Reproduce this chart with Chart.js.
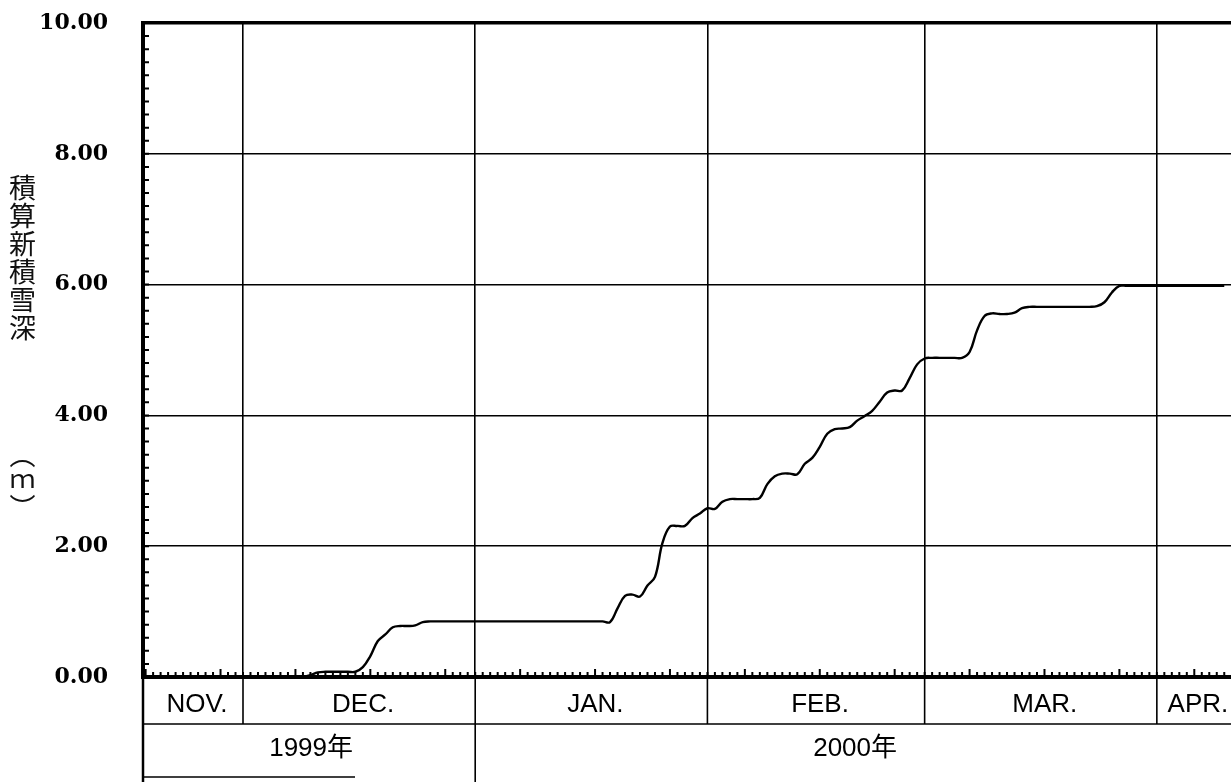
<!DOCTYPE html>
<html lang="ja">
<head>
<meta charset="utf-8">
<title>積算新積雪深</title>
<script src="https://cdn.jsdelivr.net/npm/chart.js@4.4.0/dist/chart.umd.min.js"></script>
<style>
  html, body { margin: 0; padding: 0; background: #fff; }
  .wrap { position: relative; width: 1231px; height: 782px; overflow: hidden; }
  .y-title {
    position: absolute;
    left: 8px;
    writing-mode: vertical-rl;
    text-orientation: upright;
    font-family: 'Noto Sans CJK JP', sans-serif;
    font-size: 27px;
    line-height: 28px;
    color: #111;
  }
</style>
</head>
<body>
<div class="wrap">
  <canvas id="snow" width="1231" height="782"></canvas>
  <div class="y-title" style="top: 174px; letter-spacing: 1px;">積算新積雪深</div>
  <div class="y-title" style="top: 442px; font-size: 26px;">︵ｍ︶</div>
</div>
<script>
// cumulative new snow depth (m), one value per day, winter 1999/2000
const novDepth = [0, 0, 0, 0, 0, 0, 0, 0, 0, 0, 0, 0, 0]; // Nov 18-30
const decDepth = [0, 0, 0, 0, 0, 0, 0, 0, 0, 0.03, 0.07, 0.08, 0.08, 0.08, 0.08, 0.08,
  0.15, 0.32, 0.55, 0.65, 0.76, 0.78, 0.78, 0.79, 0.84, 0.85, 0.85, 0.85, 0.85, 0.85, 0.85];
const janDepth = [0.85, 0.85, 0.85, 0.85, 0.85, 0.85, 0.85, 0.85, 0.85, 0.85, 0.85, 0.85,
  0.85, 0.85, 0.85, 0.85, 0.85, 0.85, 0.84, 1.05, 1.24, 1.26, 1.23, 1.40, 1.53, 2.05,
  2.30, 2.31, 2.31, 2.43, 2.50];
const febDepth = [2.58, 2.57, 2.68, 2.72, 2.72, 2.72, 2.72, 2.74, 2.95, 3.07, 3.11, 3.11,
  3.10, 3.26, 3.35, 3.52, 3.72, 3.79, 3.80, 3.82, 3.92, 3.99, 4.07, 4.21, 4.35, 4.38,
  4.38, 4.57, 4.78];
const marDepth = [4.87, 4.88, 4.88, 4.88, 4.88, 4.88, 4.97, 5.30, 5.52, 5.56, 5.55, 5.55,
  5.57, 5.64, 5.66, 5.66, 5.66, 5.66, 5.66, 5.66, 5.66, 5.66, 5.66, 5.67, 5.73, 5.88,
  5.98, 5.98, 5.98, 5.98, 5.98];
const aprDepth = [5.98, 5.98, 5.98, 5.98, 5.98, 5.98, 5.98, 5.98, 5.98, 5.98]; // Apr 1-10

const monthLabels = ['NOV.', 'DEC.', 'JAN.', 'FEB.', 'MAR.', 'APR.'];
const yearLabels = ['1999年', '2000年'];
const yearFirstMonth = [0, 2];
const yTicks = [0, 2, 4, 6, 8, 10];

const months = [novDepth, decDepth, janDepth, febDepth, marDepth, aprDepth];

// index of the first day of every month in the running day count
const monthStarts = [];
months.reduce((acc, m) => { monthStarts.push(acc); return acc + m.length; }, 0);
const allDays = months.flat();
const series = allDays.map((v, i) => ({ x: i, y: v }));

const labelFont = "26px 'Liberation Sans', 'Noto Sans CJK JP', sans-serif";

// inner ticks on both axes and the month / year table under the plot
const frameExtras = {
  id: 'frameExtras',
  afterDraw(chart) {
    const { ctx, chartArea, scales: { x, y } } = chart;
    const { left, right, bottom } = chartArea;
    const rowMid = bottom + 47;
    const rowEnd = chart.height;

    ctx.save();
    ctx.strokeStyle = '#000';

    ctx.lineWidth = 2;
    ctx.beginPath();
    for (let i = 0; i <= 50; i++) {
      const py = y.getPixelForValue(i * 0.2);
      ctx.moveTo(left, py);
      ctx.lineTo(left + 6, py);
    }
    for (let i = 0; i <= Math.floor(x.max); i++) {
      const px = x.getPixelForValue(i);
      ctx.moveTo(px, bottom);
      ctx.lineTo(px, bottom - (i % 10 === 0 ? 8 : 5));
    }
    ctx.stroke();

    // table rules
    ctx.lineWidth = 1.6;
    ctx.beginPath();
    ctx.moveTo(left, rowMid);
    ctx.lineTo(right, rowMid);
    monthStarts.slice(1).forEach((d) => {
      const px = x.getPixelForValue(d);
      ctx.moveTo(px, bottom);
      ctx.lineTo(px, rowMid);
    });
    yearFirstMonth.slice(1).forEach((m) => {
      const px = x.getPixelForValue(monthStarts[m]);
      ctx.moveTo(px, rowMid);
      ctx.lineTo(px, rowEnd);
    });
    ctx.moveTo(left, rowEnd - 5);
    ctx.lineTo(left + 212, rowEnd - 5);
    ctx.stroke();

    ctx.lineWidth = 2.5;
    ctx.beginPath();
    ctx.moveTo(left, bottom);
    ctx.lineTo(left, rowEnd);
    ctx.stroke();

    // labels
    ctx.fillStyle = '#000';
    ctx.font = labelFont;
    ctx.textAlign = 'center';
    ctx.textBaseline = 'middle';
    const edges = monthStarts.map((d) => x.getPixelForValue(d));
    edges[0] = left;
    edges.push(right);
    monthLabels.forEach((label, i) => {
      ctx.fillText(label, (edges[i] + edges[i + 1]) / 2 + 4, bottom + 28);
    });
    yearLabels.forEach((label, i) => {
      const from = edges[yearFirstMonth[i]];
      const to = i + 1 < yearFirstMonth.length ? edges[yearFirstMonth[i + 1]] : right;
      ctx.fillText(label, (from + to) / 2 + 2, rowMid + 25);
    });
    ctx.restore();
  },
};

new Chart(document.getElementById('snow'), {
  type: 'line',
  data: {
    datasets: [{
      data: series,
      borderColor: '#000',
      borderWidth: 2.4,
      pointRadius: 0,
      tension: 0.4,
      fill: false,
    }],
  },
  options: {
    responsive: false,
    animation: false,
    layout: { padding: { top: 23, right: 0, bottom: 0, left: 0 } },
    plugins: {
      legend: { display: false },
      tooltip: { enabled: false },
    },
    scales: {
      x: {
        type: 'linear',
        min: -0.35,
        max: 144.9,
        afterBuildTicks: (scale) => {
          scale.ticks = monthStarts.slice(1).map((v) => ({ value: v }));
        },
        afterFit: (scale) => { scale.height = 105; },
        ticks: { display: false },
        grid: { color: '#000', lineWidth: 1.6, drawTicks: false },
        border: { color: '#000', width: 4 },
      },
      y: {
        min: 0,
        max: 10,
        afterBuildTicks: (scale) => {
          scale.ticks = yTicks.map((v) => ({ value: v }));
        },
        afterFit: (scale) => { scale.width = 143; },
        ticks: {
          padding: 2,
          color: '#000',
          font: { family: "'DejaVu Serif', serif", size: 22, weight: 'bold' },
          callback: (v) => v.toFixed(2),
        },
        grid: {
          color: '#000',
          lineWidth: (ctx) => (ctx.tick && ctx.tick.value === 10 ? 3.5 : 1.6),
          drawTicks: true,
          tickLength: 33,
          tickColor: 'rgba(0,0,0,0)',
        },
        border: { color: '#000', width: 4 },
      },
    },
  },
  plugins: [frameExtras],
});
</script>
</body>
</html>
